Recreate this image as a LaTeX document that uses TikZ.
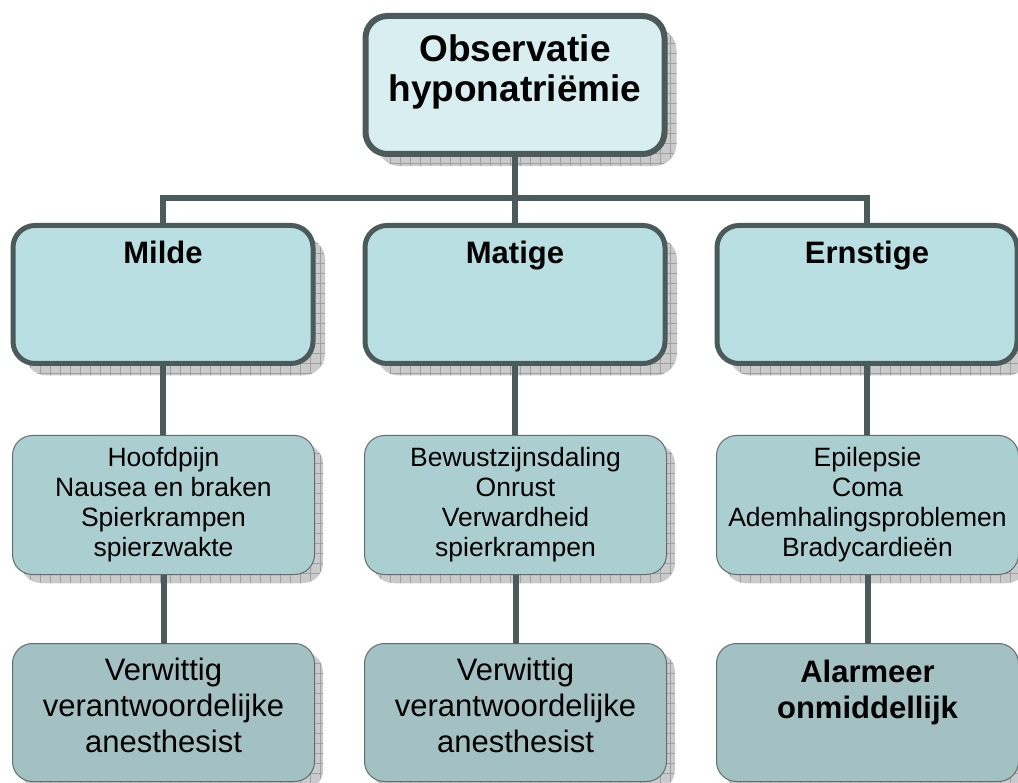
\documentclass[tikz,border=0pt]{standalone}
\usepackage{fontspec}
\setmainfont{Liberation Sans}
\usetikzlibrary{shadows,patterns.meta}

\definecolor{edge}{HTML}{4B5A5A}
\definecolor{thinedge}{HTML}{5E6E6E}
\definecolor{topfill}{HTML}{D9EEF0}
\definecolor{gradefill}{HTML}{BADFE2}
\definecolor{symptomfill}{HTML}{ABCFD1}
\definecolor{actionfill}{HTML}{A3C0C2}
\definecolor{shadowbase}{HTML}{CACACA}
\definecolor{shadowgrid}{HTML}{A0A0A0}

\tikzset{
  boxshadow/.style={
    general shadow={shadow xshift=#1, shadow yshift=-#1, fill=shadowbase},
    general shadow={shadow xshift=#1, shadow yshift=-#1,
      pattern={Hatch[distance=10pt,line width=0.5pt]}, pattern color=shadowgrid}},
  basebox/.style={inner sep=0pt, outer sep=0pt},
  headbox/.style={basebox, draw=edge, line width=6pt, fill=topfill,
    rounded corners=22pt, minimum width=299pt, minimum height=138pt, boxshadow=12pt},
  gradebox/.style={basebox, draw=edge, line width=5pt, fill=gradefill,
    rounded corners=22pt, minimum width=300pt, minimum height=138pt, boxshadow=12pt},
  symptombox/.style={basebox, draw=thinedge, line width=1pt, fill=symptomfill,
    rounded corners=20pt, minimum width=302pt, minimum height=139pt, boxshadow=8.5pt},
  actionbox/.style={basebox, draw=thinedge, line width=1pt, fill=actionfill,
    rounded corners=20pt, minimum width=302pt, minimum height=138pt, boxshadow=8.5pt},
  headtext/.style={anchor=base, inner sep=0pt, font=\fontsize{37}{40}\selectfont\bfseries},
  gradetext/.style={anchor=base, inner sep=0pt, font=\fontsize{31}{36}\selectfont\bfseries},
  symptomtext/.style={anchor=base, inner sep=0pt, font=\fontsize{26.5}{30}\selectfont},
  actiontext/.style={anchor=base, inner sep=0pt, font=\fontsize{31}{36}\selectfont},
  alarmtext/.style={anchor=base, inner sep=0pt, font=\fontsize{31}{36}\selectfont\bfseries},
  link/.style={draw=edge, line width=6pt, line join=miter},
}

\newcommand{\lines}[1]{\begin{tabular}[t]{@{}c@{}}#1\end{tabular}}

\begin{document}
\begin{tikzpicture}[x=1pt,y=-1pt]
  \useasboundingbox (0,0) rectangle (1018,783);
  \fill[white] (0,0) rectangle (1018,783);
  \begin{scope}
  \clip (0,0) rectangle (1018,783);

  % top box
  \node[headbox] (top) at (515,85) {};
  \node[headtext] (toptxt) at (515,62) {\lines{Observatie\\hyponatriëmie}};

  % severity grades
  \node[gradebox] (g1) at (163,294.5) {};
  \node[gradebox] (g2) at (515,294.5) {};
  \node[gradebox] (g3) at (867,294.5) {};
  \node[gradetext] (g1txt) at (163,264) {Milde};
  \node[gradetext] (g2txt) at (515,264) {Matige};
  \node[gradetext] (g3txt) at (867,264) {Ernstige};

  % symptoms
  \node[symptombox] (s1) at (163.5,505) {};
  \node[symptombox] (s2) at (515.5,505) {};
  \node[symptombox] (s3) at (867.5,505) {};
  \node[symptomtext] (s1txt) at (163.5,467)
    {\lines{Hoofdpijn\\Nausea en braken\\Spierkrampen\\spierzwakte}};
  \node[symptomtext] (s2txt) at (515.5,467)
    {\lines{Bewustzijnsdaling\\Onrust\\Verwardheid\\spierkrampen}};
  \node[symptomtext] (s3txt) at (867.5,467)
    {\lines{Epilepsie\\Coma\\Ademhalingsproblemen\\Bradycardieën}};

  % actions
  \node[actionbox] (a1) at (163.5,712.5) {};
  \node[actionbox] (a2) at (515.5,712.5) {};
  \node[actionbox] (a3) at (867.5,712.5) {};
  \node[actiontext] (a1txt) at (163.5,680)
    {\lines{Verwittig\\verantwoordelijke\\anesthesist}};
  \node[actiontext] (a2txt) at (515.5,680)
    {\lines{Verwittig\\verantwoordelijke\\anesthesist}};
  \node[alarmtext] (a3txt) at (867.5,682)
    {\lines{Alarmeer\\onmiddellijk}};

  % connectors
  \coordinate (bus) at (515,198);
  \draw[link] (top.south) -- (bus);
  \draw[link] (g1.north) |- (bus) -| (g3.north);
  \draw[link] (bus) -- (g2.north);
  \draw[link] (g1.south) -- (g1.south |- s1.north);
  \draw[link] (g2.south) -- (g2.south |- s2.north);
  \draw[link] (g3.south) -- (g3.south |- s3.north);
  \draw[link] (s1.south) -- (a1.north);
  \draw[link] (s2.south) -- (a2.north);
  \draw[link] (s3.south) -- (a3.north);
  \end{scope}
\end{tikzpicture}
\end{document}
